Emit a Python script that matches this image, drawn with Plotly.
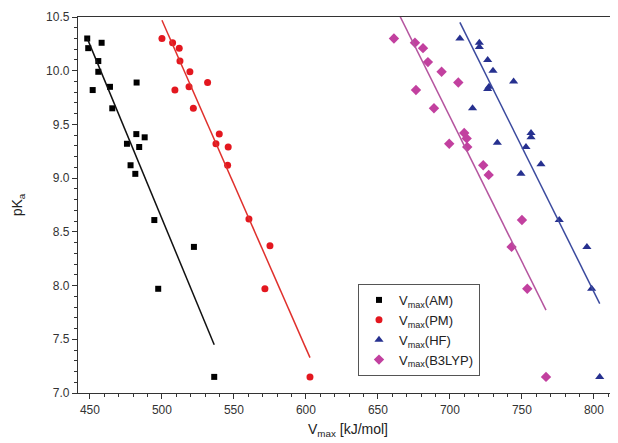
import numpy as np
import plotly.graph_objects as go

# Data
am_x = [448.1, 448.8, 458.1, 455.8, 455.8, 451.9, 463.9, 482.4, 465.5, 482.2, 488.0, 475.7, 484.2, 478.2, 481.5, 494.7, 522.2, 497.4, 536.3]
am_y = [10.30, 10.21, 10.26, 10.09, 9.99, 9.82, 9.85, 9.89, 9.65, 9.41, 9.38, 9.32, 9.29, 9.12, 9.04, 8.61, 8.36, 7.97, 7.15]

pm_x = [500.0, 507.4, 512.0, 512.5, 519.4, 531.7, 509.0, 518.8, 521.8, 539.8, 537.5, 546.0, 545.6, 560.4, 575.0, 571.5, 602.8]
pm_y = [10.30, 10.26, 10.21, 10.09, 9.99, 9.89, 9.82, 9.85, 9.65, 9.41, 9.32, 9.29, 9.12, 8.62, 8.37, 7.97, 7.15]

hf_x = [706.9, 720.4, 720.4, 726.2, 729.9, 744.2, 726.2, 727.1, 715.7, 756.3, 756.3, 752.8, 732.9, 763.2, 749.3, 775.9, 795.1, 798.4, 804.0]
hf_y = [10.30, 10.26, 10.22, 10.10, 10.00, 9.90, 9.83, 9.85, 9.65, 9.42, 9.38, 9.29, 9.33, 9.13, 9.04, 8.61, 8.36, 7.97, 7.15]

b3_x = [661.1, 675.7, 681.3, 684.7, 676.4, 688.9, 694.2, 705.8, 699.5, 709.9, 711.6, 712.0, 723.1, 726.9, 750.0, 742.8, 753.7, 766.7]
b3_y = [10.30, 10.26, 10.21, 10.08, 9.82, 9.65, 9.99, 9.89, 9.32, 9.42, 9.37, 9.29, 9.12, 9.03, 8.61, 8.36, 7.97, 7.15]

x_ticks = [450, 500, 550, 600, 650, 700, 750, 800]
y_ticks = [7.0, 7.5, 8.0, 8.5, 9.0, 9.5, 10.0, 10.5]

series = [
    ("V<sub>max</sub>(AM)", am_x, am_y, "#000000", "#111111", "square", 6),
    ("V<sub>max</sub>(PM)", pm_x, pm_y, "#e3171f", "#e0302c", "circle", 7),
    ("V<sub>max</sub>(HF)", hf_x, hf_y, "#26308f", "#3b4a9e", "triangle-up", 8),
    ("V<sub>max</sub>(B3LYP)", b3_x, b3_y, "#c2409f", "#b5559f", "diamond", 8),
]

fig = go.Figure()
for name, xs, ys, mcol, lcol, sym, sz in series:
    fig.add_trace(go.Scatter(x=xs, y=ys, mode="markers", name=name,
                             marker=dict(color=mcol, symbol=sym, size=sz, line=dict(width=0))))
for name, xs, ys, mcol, lcol, sym, sz in series:
    xa = np.array(xs); ya = np.array(ys)
    k, b = np.polyfit(xa, ya, 1)
    xl = np.array([xa.min(), xa.max()])
    fig.add_trace(go.Scatter(x=xl, y=k * xl + b, mode="lines", showlegend=False,
                             line=dict(color=lcol, width=1.5), hoverinfo="skip"))

font = "Liberation Sans, Arial, sans-serif"
# page body has an 8px default margin, so the figure is 8px smaller
fig.update_layout(
    width=610, height=435,
    margin=dict(l=70, r=0, t=9, b=50),
    paper_bgcolor="white", plot_bgcolor="white",
    font=dict(family=font, size=12, color="#333333"),
    showlegend=True,
    legend=dict(x=0.5185, y=0.29, xanchor="left", yanchor="top",
                bgcolor="white", bordercolor="#555555", borderwidth=1,
                font=dict(size=13, color="#222222"), tracegroupgap=0, itemwidth=30),
    xaxis=dict(range=[441.7, 816.7], tickmode="array", tickvals=x_ticks,
               ticks="outside", ticklen=5, tickwidth=1, tickcolor="#333333",
               minor=dict(ticks="outside", ticklen=3, dtick=10, tickcolor="#333333"),
               showline=True, linecolor="#333333", linewidth=1.3, mirror=True, showgrid=False, zeroline=False,
               title=dict(text="V<sub>max</sub> [kJ/mol]", font=dict(size=14, color="#222222"), standoff=8),
               tickfont=dict(size=12, color="#333333")),
    yaxis=dict(range=[7.0, 10.5], tickmode="array", tickvals=y_ticks,
               tickformat=".1f",
               ticks="outside", ticklen=5, tickwidth=1, tickcolor="#333333",
               minor=dict(ticks="outside", ticklen=3, dtick=0.1, tickcolor="#333333"),
               showline=True, linecolor="#333333", linewidth=1.3, mirror=True, showgrid=False, zeroline=False,
               title=dict(text="pK<sub>a</sub>", font=dict(size=14, color="#222222"), standoff=20),
               tickfont=dict(size=12, color="#333333")),
)
fig.write_html("out.html")
